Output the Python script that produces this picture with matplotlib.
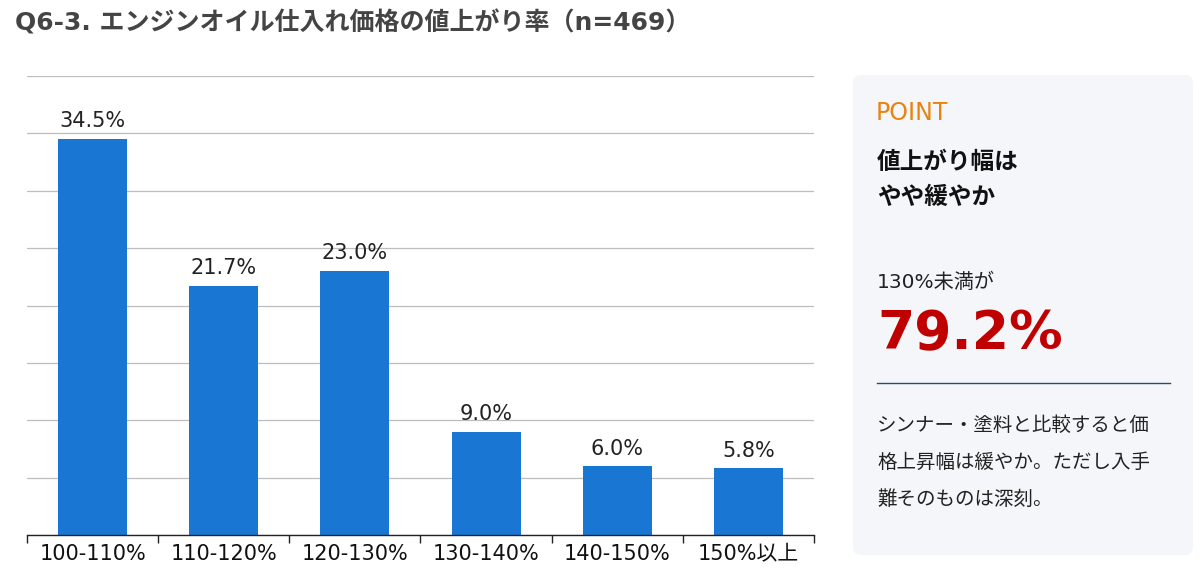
import matplotlib
matplotlib.use("Agg")
import matplotlib.pyplot as plt
from matplotlib.patches import FancyBboxPatch

FAM = ['DejaVu Sans', 'Noto Sans CJK JP']
plt.rcParams['font.family'] = FAM

categories = ["100-110%", "110-120%", "120-130%", "130-140%", "140-150%", "150%以上"]
values = [34.5, 21.7, 23.0, 9.0, 6.0, 5.8]
title = "Q6-3. エンジンオイル仕入れ価格の値上がり率（n=469）"
point_label = "POINT"
headline = ["値上がり幅は", "やや緩やか"]
sub_label = "130%未満が"
big_value = "79.2%"
body = ["シンナー・塗料と比較すると価", "格上昇幅は緩やか。ただし入手", "難そのものは深刻。"]

W, H = 1200, 577
fig = plt.figure(figsize=(W / 100, H / 100), dpi=100)
fig.patch.set_facecolor("white")

# chart axes
ax_l, ax_r, ax_t, ax_b = 27, 814, 76, 535
ax = fig.add_axes([ax_l / W, 1 - ax_b / H, (ax_r - ax_l) / W, (ax_b - ax_t) / H])
x = list(range(len(categories)))
bars = ax.bar(x, values, width=0.525, color="#1976D2", zorder=3)
ax.set_xlim(-0.5, len(categories) - 0.5)
ax.set_ylim(0, 40)
ax.set_yticks(range(0, 41, 5))
ax.yaxis.grid(True, color="#BDBDBD", linewidth=0.9, zorder=0)
ax.tick_params(axis="y", length=0, labelleft=False)
for s in ["top", "left", "right"]:
    ax.spines[s].set_visible(False)
ax.spines["bottom"].set_color("#222222")
ax.spines["bottom"].set_linewidth(1.0)
ax.spines["bottom"].set_zorder(4)

ax.set_xticks([i - 0.5 for i in range(len(categories) + 1)])
ax.set_xticklabels([])
ax.tick_params(axis="x", which="major", length=6, width=1.0, color="#222222")
ax.set_xticks(x, minor=True)
ax.set_xticklabels(categories, minor=True, fontsize=15, color="#111111")
ax.tick_params(axis="x", which="minor", length=0, pad=6.5)

for b, v in zip(bars, values):
    ax.annotate(f"{v:.1f}%", (b.get_x() + b.get_width() / 2, v),
                xytext=(0, 5.5), textcoords="offset points",
                ha="center", va="bottom", fontsize=15, color="#222222")

# overlay axes in pixel coordinates
ov = fig.add_axes([0, 0, 1, 1], facecolor="none")
ov.set_xlim(0, W)
ov.set_ylim(H, 0)
ov.axis("off")

ov.text(15, 23, title, fontsize=18, color="#444444", fontweight="semibold",
        ha="left", va="center")

panel = FancyBboxPatch((853, 75), 340, 480, boxstyle="round,pad=0,rounding_size=8",
                       facecolor="#F4F6F9", edgecolor="none")
ov.add_patch(panel)

ov.text(876, 113, point_label, fontsize=17, color="#E8830F", ha="left", va="center")
ov.text(877, 162, headline[0], fontsize=17, color="#111111", fontweight="bold",
        ha="left", va="center")
ov.text(877, 197, headline[1], fontsize=17, color="#111111", fontweight="bold",
        ha="left", va="center")
ov.text(877, 282, sub_label, fontsize=14.5, color="#222222", ha="left", va="center")
ov.text(877, 329, big_value, fontsize=38.5, color="#C00000", fontweight="bold",
        ha="left", va="center_baseline")
ov.plot([877, 1170], [383, 383], color="#1F4E79", linewidth=1.0)
for i, line in enumerate(body):
    ov.text(877, 425 + i * 37, line, fontsize=14, color="#222222", ha="left", va="center")

fig.savefig("out.png", dpi=100, facecolor="white")
